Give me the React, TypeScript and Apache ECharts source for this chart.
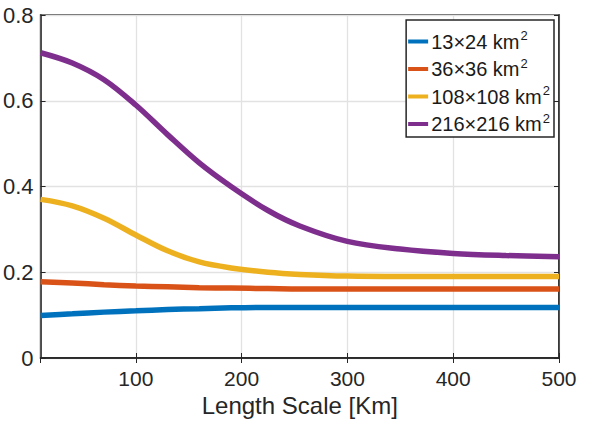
import React, { useEffect, useRef } from "react";
import * as echarts from "echarts";

const xValues = [10, 40, 70, 100, 130, 160, 190, 225, 255, 300, 350, 400, 450, 500];
const seriesNames = ["13×24 km²", "36×36 km²", "108×108 km²", "216×216 km²"];
const blueValues = [0.099, 0.103, 0.107, 0.11, 0.113, 0.115, 0.117, 0.118, 0.118, 0.118, 0.118, 0.118, 0.118, 0.118];
const orangeValues = [0.178, 0.175, 0.171, 0.168, 0.166, 0.164, 0.163, 0.162, 0.161, 0.161, 0.161, 0.161, 0.161, 0.161];
const yellowValues = [0.37, 0.355, 0.326, 0.287, 0.25, 0.224, 0.21, 0.2, 0.195, 0.191, 0.19, 0.19, 0.19, 0.19];
const purpleValues = [0.712, 0.688, 0.649, 0.59, 0.521, 0.455, 0.4, 0.344, 0.308, 0.272, 0.254, 0.244, 0.239, 0.236];
const colors = ["#0072BD", "#D95319", "#EDB120", "#7E2F8E"];
const xAxisTitle = "Length Scale [Km]";

export default function App() {
  const ref = useRef<HTMLDivElement>(null);
  useEffect(() => {
    document.body.style.margin = "0";
    if (!ref.current) return;
    const chart = echarts.init(ref.current, null, { renderer: "svg" });
    const all = [blueValues, orangeValues, yellowValues, purpleValues];
    const font = "Liberation Sans";
    const axisColor = "#262626";
    const commonX = {
      type: "value",
      min: 10,
      max: 500,
      splitNumber: 5,
    };
    chart.setOption({
      animation: false,
      textStyle: { fontFamily: font },
      grid: {
        left: 39,
        right: 41,
        top: 15,
        bottom: 67,
        show: true,
        borderColor: axisColor,
        borderWidth: 1.5,
        backgroundColor: "#ffffff",
      },
      legend: {
        orient: "vertical",
        right: 46,
        top: 20,
        backgroundColor: "#ffffff",
        borderColor: axisColor,
        borderWidth: 1.5,
        borderRadius: 0,
        padding: [9, 4, 3, 2],
        itemGap: 5,
        itemWidth: 20,
        itemHeight: 4,
        icon: "rect",
        data: seriesNames,
        formatter: (name: string) => {
          const base = name.replace("²", "");
          return `{a|${base}}{s|2}`;
        },
        textStyle: {
          color: "#1a1a1a",
          fontFamily: font,
          padding: [0, 0, 0, -2],
          rich: {
            a: { fontSize: 20, fontFamily: font, color: "#1a1a1a", lineHeight: 24 },
            s: { fontSize: 13, fontFamily: font, color: "#1a1a1a", padding: [0, 0, 12, 1] },
          },
        },
      },
      xAxis: [
        {
          ...commonX,
          position: "bottom",
          axisLine: { show: true, lineStyle: { color: axisColor, width: 1.5 } },
          axisTick: { show: true, inside: true, length: 5, lineStyle: { color: axisColor } },
          axisLabel: {
            showMinLabel: false,
            color: axisColor,
            fontSize: 21,
            margin: 10,
            fontFamily: font,
          },
          splitLine: { show: true, lineStyle: { color: "#e2e2e2", width: 1.3 } },
          name: xAxisTitle,
          nameLocation: "middle",
          nameGap: 35,
          nameTextStyle: { color: axisColor, fontSize: 24, fontFamily: font },
        },
        {
          ...commonX,
          position: "top",
          axisLine: { show: true, lineStyle: { color: axisColor, width: 1.5 } },
          axisTick: { show: true, inside: true, length: 5, lineStyle: { color: axisColor } },
          axisLabel: { show: false },
          splitLine: { show: false },
        },
      ],
      yAxis: [
        {
          type: "value",
          min: 0,
          max: 0.8,
          interval: 0.2,
          position: "left",
          axisLine: { show: true, lineStyle: { color: axisColor, width: 1.5 } },
          axisTick: { show: true, inside: true, length: 5, lineStyle: { color: axisColor } },
          axisLabel: {
            color: axisColor,
            fontSize: 22,
            margin: 7,
            fontFamily: font,
            formatter: (v: number) => (v === 0 ? "0" : String(Math.round(v * 10) / 10)),
          },
          splitLine: { show: true, lineStyle: { color: "#e2e2e2", width: 1.3 } },
        },
        {
          type: "value",
          min: 0,
          max: 0.8,
          interval: 0.2,
          position: "right",
          axisLine: { show: true, lineStyle: { color: axisColor, width: 1.5 } },
          axisTick: { show: true, inside: true, length: 5, lineStyle: { color: axisColor } },
          axisLabel: { show: false },
          splitLine: { show: false },
        },
      ],
      series: all.map((vals, i) => ({
        name: seriesNames[i],
        type: "line",
        xAxisIndex: 0,
        yAxisIndex: 0,
        smooth: 0.35,
        showSymbol: false,
        symbol: "none",
        data: xValues.map((x, j) => [x, vals[j]]),
        lineStyle: { color: colors[i], width: 5.5 },
        itemStyle: { color: colors[i] },
        z: 3 + i,
      })),
    });
    return () => chart.dispose();
  }, []);
  return <div ref={ref} style={{ width: 600, height: 425 }} />;
}
